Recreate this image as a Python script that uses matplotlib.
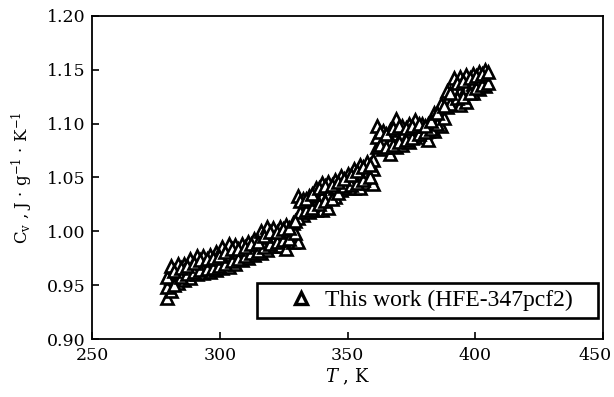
import matplotlib
matplotlib.use("Agg")
import matplotlib.pyplot as plt
from matplotlib.lines import Line2D
from matplotlib.patches import Rectangle
from matplotlib.transforms import ScaledTranslation

T_main = [279.5, 281.0, 283.5, 286.0, 288.5, 291.0, 293.5, 296.0, 298.5, 301.0,
          303.5, 306.0, 308.5, 311.0, 313.5, 316.0, 318.5, 321.0, 323.5, 326.0,
          328.5, 330.5, 332.5, 335.0, 337.5, 340.0, 342.5, 345.0, 347.5, 350.0,
          352.5, 355.0, 357.5, 360.0, 361.5, 364.0, 366.5, 369.0, 371.5, 374.0,
          376.5, 379.0, 381.5, 384.0, 386.5, 389.0, 391.5, 394.0, 396.5, 399.0,
          401.5, 404.0]
cv_low = [0.938, 0.945, 0.952, 0.955, 0.957, 0.960, 0.961, 0.962, 0.964, 0.966,
          0.967, 0.970, 0.973, 0.975, 0.978, 0.980, 0.983, 0.986, 0.986, 0.984,
          0.990, 0.990, 1.015, 1.018, 1.020, 1.020, 1.022, 1.032, 1.038, 1.040,
          1.040, 1.040, 1.045, 1.044, 1.078, 1.076, 1.072, 1.078, 1.080, 1.083,
          1.088, 1.090, 1.085, 1.093, 1.098, 1.115, 1.120, 1.117, 1.120, 1.128,
          1.132, 1.135]
cv_mid = [0.948, 0.957, 0.962, 0.963, 0.966, 0.968, 0.969, 0.970, 0.973, 0.975,
          0.978, 0.978, 0.980, 0.982, 0.985, 0.990, 0.993, 0.994, 0.996, 0.998,
          1.000, 1.012, 1.022, 1.025, 1.030, 1.033, 1.035, 1.040, 1.045, 1.047,
          1.050, 1.052, 1.055, 1.058, 1.088, 1.085, 1.082, 1.090, 1.090, 1.092,
          1.096, 1.095, 1.093, 1.103, 1.108, 1.122, 1.130, 1.130, 1.133, 1.137,
          1.140, 1.140]
cv_high = [0.958, 0.968, 0.970, 0.970, 0.974, 0.977, 0.977, 0.978, 0.981, 0.985,
           0.988, 0.987, 0.988, 0.990, 0.993, 1.000, 1.004, 1.003, 1.004, 1.006,
           1.008, 1.033, 1.030, 1.033, 1.040, 1.045, 1.046, 1.048, 1.051, 1.053,
           1.058, 1.062, 1.064, 1.066, 1.098, 1.093, 1.094, 1.104, 1.098, 1.100,
           1.103, 1.100, 1.100, 1.110, 1.118, 1.130, 1.142, 1.143, 1.145, 1.146,
           1.148, 1.150]

# intermediate columns
T_mid = [282.2, 284.8, 287.2, 289.8, 292.2, 294.8, 297.2, 299.8, 302.2, 304.8,
         307.2, 309.8, 312.2, 314.8, 317.2, 319.8, 322.2, 324.8, 327.2, 329.5,
         331.5, 333.8, 336.2, 338.8, 341.2, 343.8, 346.2, 348.8, 351.2, 353.8,
         356.2, 358.8, 362.8, 365.2, 367.8, 370.2, 372.8, 375.2, 377.8, 380.2,
         382.8, 385.2, 387.8, 390.2, 392.8, 395.2, 397.8, 400.2, 402.8, 405.0]
cv_a = [0.950, 0.958, 0.960, 0.962, 0.964, 0.965, 0.966, 0.968, 0.970, 0.972,
        0.974, 0.977, 0.980, 0.982, 0.985, 0.988, 0.990, 0.992, 0.993, 0.998,
        1.018, 1.020, 1.022, 1.025, 1.028, 1.030, 1.036, 1.042, 1.043, 1.045,
        1.048, 1.050, 1.080, 1.078, 1.080, 1.083, 1.085, 1.087, 1.090, 1.092,
        1.095, 1.100, 1.105, 1.118, 1.124, 1.125, 1.128, 1.133, 1.136, 1.138]
cv_b = [0.963, 0.966, 0.968, 0.971, 0.973, 0.974, 0.975, 0.977, 0.981, 0.984,
        0.984, 0.985, 0.988, 0.990, 0.996, 0.999, 0.999, 1.002, 1.003, 1.010,
        1.028, 1.030, 1.035, 1.040, 1.042, 1.043, 1.046, 1.049, 1.052, 1.056,
        1.060, 1.062, 1.092, 1.090, 1.096, 1.098, 1.096, 1.098, 1.100, 1.098,
        1.102, 1.110, 1.116, 1.128, 1.138, 1.140, 1.142, 1.144, 1.146, 1.148]

x_ticks = [250, 300, 350, 400, 450]
y_ticks = [0.90, 0.95, 1.00, 1.05, 1.10, 1.15, 1.20]
y_tick_labels = ['0.90', '0.95', '1.00', '1.05', '1.10', '1.15', '1.20']

plt.rcParams['mathtext.fontset'] = 'dejavuserif'

fig = plt.figure(figsize=(6.14, 3.97), dpi=100)
ax = fig.add_axes([0.150, 0.146, 0.832, 0.814])

mk = dict(linestyle='none', marker='^', markersize=8.5, markerfacecolor='white',
          markeredgecolor='black', markeredgewidth=1.9)
for ys in (cv_low, cv_mid, cv_high):
    ax.plot(T_main, ys, **mk)
for ys in (cv_a, cv_b):
    ax.plot(T_mid, ys, **mk)

ax.set_xlim(250, 450)
ax.set_ylim(0.90, 1.20)
ax.set_xticks(x_ticks)
ax.set_yticks(y_ticks)
ax.set_yticklabels(y_tick_labels)
ax.tick_params(direction='in', length=5, width=1.2, labelsize=12.5,
               top=False, right=False)
ax.tick_params(axis='x', pad=6)
ax.tick_params(axis='y', pad=5)
for lab in ax.get_xticklabels() + ax.get_yticklabels():
    lab.set_family('DejaVu Serif')
for s in ax.spines.values():
    s.set_linewidth(1.3)

# nudge the last x tick label inward so it stays inside the figure
last = ax.xaxis.get_major_ticks()[-1].label1
last.set_transform(last.get_transform() + ScaledTranslation(-6 / 72, 0, fig.dpi_scale_trans))

ax.set_xlabel(r'$T$ , K', fontsize=13, family='DejaVu Serif', labelpad=2)
ax.set_ylabel(r'C$_\mathrm{v}$ , J · g$^{\mathrm{-1}}$ · K$^{\mathrm{-1}}$',
              fontsize=12, family='DejaVu Serif', labelpad=8)

# legend frame drawn as a box, legend content without frame
ax.add_patch(Rectangle((0.323, 0.065), 0.667, 0.108, transform=ax.transAxes,
                       fill=True, facecolor='white', edgecolor='black',
                       linewidth=1.9, zorder=4))
handle = Line2D([], [], linestyle='none', marker='^', markersize=8,
                markerfacecolor='white', markeredgecolor='black', markeredgewidth=2.4)
leg = ax.legend([handle], ['This work (HFE-347pcf2)'], loc='center',
                bbox_to_anchor=(0.663, 0.119), frameon=False,
                prop={'family': 'Liberation Serif', 'size': 17},
                handletextpad=0.5, borderpad=0.0, handlelength=1.0)
leg.set_zorder(5)

fig.savefig('out.png', dpi=100)
